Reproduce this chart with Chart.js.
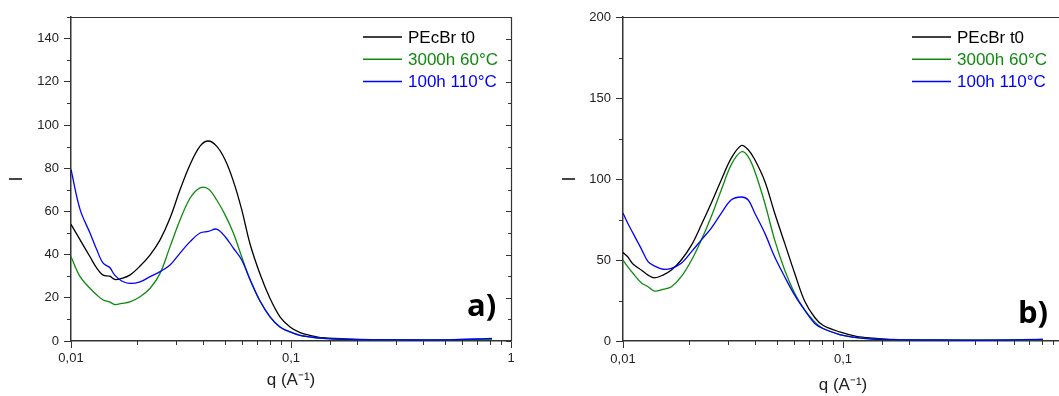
<!DOCTYPE html>
<html>
<head>
<meta charset="utf-8">
<script src="https://cdn.jsdelivr.net/npm/chart.js@4.4.1/dist/chart.umd.min.js"></script>
<style>
html, body { margin: 0; padding: 0; background: #fff; overflow: hidden; width: 1059px; height: 396px; }
.panel { position: absolute; top: 0; height: 396px; }
#panel-a { left: 0; width: 530px; }
#panel-b { left: 530px; width: 545px; }
</style>
</head>
<body>
<div class="panel" id="panel-a"><canvas id="chart-a"></canvas></div>
<div class="panel" id="panel-b"><canvas id="chart-b"></canvas></div>
<script>
const seriesLabels = ['PEcBr t0', '3000h 60°C', '100h 110°C'];
const seriesColors = ['#000000', '#0f8a0f', '#0000ff'];

// panel a) - q in A^-1, intensity I
const qA = [0.0100, 0.0110, 0.0122, 0.0131, 0.0140, 0.0150, 0.0158, 0.0170, 0.0185, 0.0206, 0.0229, 0.0254, 0.0282, 0.0313, 0.0348, 0.0386, 0.0421, 0.0459, 0.0501, 0.0547, 0.0597, 0.0651, 0.0723, 0.0803, 0.0891, 0.0990, 0.110, 0.122, 0.140, 0.185, 0.313, 0.528, 0.820];
const pecbrA = [54, 46.8, 39, 33.7, 30.5, 30, 28.5, 29, 30.5, 34.7, 39.9, 46.8, 56.9, 70, 81.7, 90.2, 92.6, 90.2, 84, 74, 60.8, 45, 31, 19.7, 11.2, 6.5, 3.9, 2.6, 1.5, 0.9, 0.6, 0.6, 0.9];
const aged60A = [39, 29.8, 24.4, 21.3, 19, 18.1, 16.9, 17.4, 18.1, 20.5, 24.4, 31.3, 43.7, 56, 66.2, 70.9, 70.4, 65.4, 58.5, 50, 39, 28.5, 18.5, 11.2, 6.5, 4.2, 2.6, 1.9, 1.2, 0.7, 0.5, 0.5, 0.8];
const aged110A = [79.4, 60.8, 50, 42.2, 36, 34, 30.5, 27.8, 26.7, 27.4, 29.8, 32.1, 35.2, 40.7, 46, 50, 50.7, 51.8, 48.4, 43, 37.5, 28.5, 18.5, 11.2, 6.5, 4.2, 2.6, 1.9, 1.2, 0.7, 0.5, 0.5, 1.2];

// panel b)
const qB = [0.0100, 0.0105, 0.0111, 0.0121, 0.0130, 0.0139, 0.0152, 0.0166, 0.0184, 0.0205, 0.0227, 0.0252, 0.0280, 0.0311, 0.0345, 0.0370, 0.0397, 0.0441, 0.0489, 0.0543, 0.0603, 0.0670, 0.0744, 0.0811, 0.0966, 0.115, 0.137, 0.163, 0.306, 0.515, 0.809];
const pecbrB = [54.6, 52, 47.5, 43.8, 40.7, 39, 40.7, 43.8, 50, 59.3, 71.7, 85.2, 99.6, 113, 120.7, 118.2, 112, 98.6, 79, 60.4, 41.8, 24.5, 14.5, 9.7, 5.6, 2.9, 1.7, 1.0, 0.6, 0.6, 1.0];
const aged60B = [50, 45.9, 41.8, 36, 33.5, 30.8, 31.9, 33.5, 39.7, 50, 62.4, 76.9, 93.4, 109, 116.8, 114, 104.8, 85.2, 62.4, 43.8, 29.4, 19, 11.8, 7.7, 4, 2.1, 1.2, 0.8, 0.5, 0.5, 0.8];
const aged110B = [79, 72.8, 66.6, 57, 49, 46.3, 44.3, 44.9, 48, 55.2, 62.4, 69.7, 79, 87.2, 88.9, 87.2, 79, 66.6, 52, 39.7, 28.3, 19, 10.8, 7.7, 4, 2.1, 1.2, 0.8, 0.5, 0.5, 1.0];

const qMin = 0.01;
const qMax = 1;
const yMaxA = 150, yStepA = 10, yMajorA = 20;
const yMaxB = 200, yStepB = 25, yMajorB = 50;
const xTitle = 'q (A\u207B\u00B9)';
const yTitle = 'I';

const axisColor = '#333333';
const textColor = '#222222';

function isDecade(v) {
    const l = Math.log10(v);
    return Math.abs(l - Math.round(l)) < 1e-6;
}

function commaLabel(v) {
    return String(Number(v.toPrecision(3))).replace('.', ',');
}

// frame on top/right, short minor ticks, mirrored ticks on the right
const framePlugin = {
    id: 'frame',
    afterDraw(chart, args, opts) {
        const { ctx, chartArea: a, scales } = chart;
        ctx.save();
        ctx.strokeStyle = axisColor;
        ctx.lineWidth = 1.2;
        ctx.beginPath();
        ctx.moveTo(a.left, a.top + 0.5);
        ctx.lineTo(a.right + 0.5, a.top + 0.5);
        ctx.lineTo(a.right + 0.5, a.bottom);
        ctx.stroke();

        ctx.lineWidth = 1;
        ctx.beginPath();
        scales.x.ticks.forEach(t => {
            if (isDecade(t.value)) return;
            const px = Math.round(scales.x.getPixelForValue(t.value)) + 0.5;
            ctx.moveTo(px, a.bottom);
            ctx.lineTo(px, a.bottom + 4);
        });
        scales.y.ticks.forEach(t => {
            const py = Math.round(scales.y.getPixelForValue(t.value)) + 0.5;
            const major = t.value % opts.yMajor === 0;
            if (!major) {
                ctx.moveTo(a.left - 4, py);
                ctx.lineTo(a.left, py);
            }
            if (opts.rightTicks) {
                ctx.moveTo(a.right, py);
                ctx.lineTo(a.right - (major ? 5 : 3), py);
            }
        });
        ctx.stroke();
        ctx.restore();
    }
};

const insideLegendPlugin = {
    id: 'insideLegend',
    afterDraw(chart, args, opts) {
        const ctx = chart.ctx;
        ctx.save();
        ctx.font = '17px "Liberation Sans", Arial, sans-serif';
        ctx.textBaseline = 'middle';
        chart.data.datasets.forEach((ds, i) => {
            const y = opts.y + i * opts.gap;
            ctx.strokeStyle = ds.borderColor;
            ctx.lineWidth = 1.5;
            ctx.beginPath();
            ctx.moveTo(opts.x, y);
            ctx.lineTo(opts.x + 39, y);
            ctx.stroke();
            ctx.fillStyle = ds.borderColor;
            ctx.fillText(ds.label, opts.x + 45, y + 1);
        });
        ctx.restore();
    }
};

const panelTagPlugin = {
    id: 'panelTag',
    afterDraw(chart, args, opts) {
        const ctx = chart.ctx;
        ctx.save();
        ctx.font = 'bold 31px "Open Sans", "Liberation Sans", sans-serif';
        ctx.fillStyle = '#000';
        ctx.textBaseline = 'alphabetic';
        ctx.fillText(opts.text, opts.x, opts.y);
        ctx.restore();
    }
};

function makePanel(canvasId, q, values, panel) {
    const ctx = document.getElementById(canvasId).getContext('2d');
    return new Chart(ctx, {
        type: 'line',
        data: {
            datasets: values.map((vals, i) => ({
                label: seriesLabels[i],
                data: q.map((x, j) => ({ x: x, y: vals[j] })),
                borderColor: seriesColors[i],
                borderWidth: 1.3,
                pointRadius: 0,
                tension: 0.35,
                fill: false,
                order: 2 - i
            }))
        },
        options: {
            responsive: true,
            maintainAspectRatio: false,
            animation: false,
            layout: { padding: { top: 17, right: panel.padRight, left: 0, bottom: 0 } },
            plugins: {
                legend: { display: false },
                tooltip: { enabled: false },
                frame: { yMajor: panel.yMajor, rightTicks: panel.rightTicks },
                insideLegend: { x: panel.legendX, y: 37, gap: 22.3 },
                panelTag: { text: panel.tag, x: panel.tagX, y: panel.tagY }
            },
            scales: {
                x: {
                    type: 'logarithmic',
                    min: qMin,
                    max: qMax,
                    afterFit: s => { s.height = 55; },
                    border: { color: axisColor, width: 1.5 },
                    grid: {
                        drawOnChartArea: false,
                        tickLength: 7,
                        tickColor: c => (c.tick && isDecade(c.tick.value)) ? axisColor : 'rgba(0,0,0,0)'
                    },
                    ticks: {
                        autoSkip: false,
                        maxRotation: 0,
                        padding: panel.xTickPad,
                        color: textColor,
                        font: { family: '"Liberation Sans", Arial, sans-serif', size: 13 },
                        callback: v => isDecade(v) ? commaLabel(v) : ''
                    },
                    title: {
                        display: true,
                        text: xTitle,
                        color: textColor,
                        font: { family: '"Liberation Sans", Arial, sans-serif', size: 17 },
                        padding: { top: 0, bottom: panel.xTitlePad }
                    }
                },
                y: {
                    type: 'linear',
                    min: 0,
                    max: panel.yMax,
                    afterFit: s => { s.width = panel.yWidth; },
                    border: { color: axisColor, width: 1.5 },
                    grid: {
                        drawOnChartArea: false,
                        tickLength: 7,
                        tickColor: c => (c.tick && c.tick.value % panel.yMajor === 0) ? axisColor : 'rgba(0,0,0,0)'
                    },
                    ticks: {
                        stepSize: panel.yStep,
                        padding: 5,
                        color: textColor,
                        font: { family: '"Liberation Sans", Arial, sans-serif', size: 13 },
                        callback: v => v % panel.yMajor === 0 ? v : ''
                    },
                    title: {
                        display: true,
                        text: yTitle,
                        color: textColor,
                        font: { family: '"Liberation Sans", Arial, sans-serif', size: 18 },
                        padding: { top: panel.yTitlePad, bottom: 0 }
                    }
                }
            }
        },
        plugins: [framePlugin, insideLegendPlugin, panelTagPlugin]
    });
}

makePanel('chart-a', qA, [pecbrA, aged60A, aged110A], {
    yMax: yMaxA, yStep: yStepA, yMajor: yMajorA,
    yWidth: 71, padRight: 19, rightTicks: true,
    xTickPad: 3, xTitlePad: 5, yTitlePad: 6,
    legendX: 363, tag: 'a)', tagX: 467, tagY: 316
});

makePanel('chart-b', qB, [pecbrB, aged60B, aged110B], {
    yMax: yMaxB, yStep: yStepB, yMajor: yMajorB,
    yWidth: 93, padRight: 12, rightTicks: false,
    xTickPad: 4, xTitlePad: 0, yTitlePad: 29,
    legendX: 382, tag: 'b)', tagX: 488, tagY: 323
});
</script>
</body>
</html>
